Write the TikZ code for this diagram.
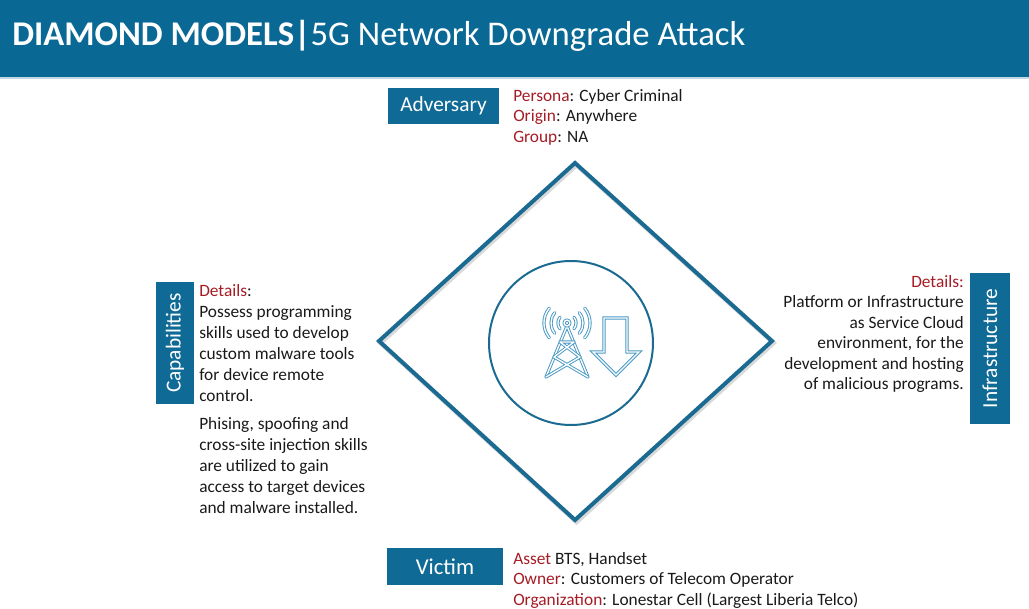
\documentclass[tikz,border=0pt]{standalone}
\usepackage{fontspec}
\setmainfont{Carlito}
\definecolor{barblue}{RGB}{9,104,148}
\definecolor{boxblue}{RGB}{16,106,150}
\definecolor{lineblue}{RGB}{26,106,146}
\definecolor{iconblue}{RGB}{72,152,196}
\definecolor{keyred}{RGB}{165,28,36}
\newcommand{\key}[1]{\textcolor{keyred}{#1}}
\tikzset{
  tagbox/.style={fill=boxblue, text=white, inner sep=0pt, font=\fontsize{16}{18}\selectfont},
  info/.style={inner sep=0pt, align=left, text=black!90, font=\fontsize{13}{15.4}\selectfont},
  icon line/.style={draw=iconblue, double=white, double distance=1pt, line width=0.7pt},
}
\begin{document}
\begin{tikzpicture}[x=0.75pt, y=-0.75pt, line join=round, line cap=round]
	\useasboundingbox (0,0) rectangle (1029,609);
	% title bar
	\fill[barblue] (0,0) rectangle (1029,77);
	\fill[barblue!25] (0,77) rectangle (1029,79);
	\node[anchor=base west, inner sep=0pt, text=white, font=\fontsize{26}{30}\selectfont] (title) at (12,46) {\textbf{DIAMOND MODELS|}5G Network Downgrade Attack};
	% diamond
	\coordinate (adv) at (575,163);
	\coordinate (inf) at (772,341);
	\coordinate (vic) at (575,520);
	\coordinate (cap) at (379,341);
	\draw[black!15, line width=3.5pt, line join=miter] ([shift={(1.5,2)}]adv)--([shift={(1.5,2)}]inf)--([shift={(1.5,2)}]vic)--([shift={(1.5,2)}]cap)--cycle;
	\draw[lineblue, line width=3pt, line join=miter] (adv)--(inf)--(vic)--(cap)--cycle;
	\node[circle, draw=lineblue, line width=1.5pt, minimum size=123pt, inner sep=0pt] (core) at (571,343) {};
	% tower icon
	\draw[icon line] (567,326)--(546,377) (567,326)--(588,377);
	\draw[icon line] (560,342)--(574,342) (560,342)--(580,357) (574,342)--(554,357) (554,357)--(588,377) (580,357)--(546,377);
	\draw[icon line] (567,323) circle (2.2pt);
	\foreach \r in {6.8pt,12pt,17.3pt} {
		\draw[icon line] (567,323) ++(140:\r) arc[start angle=140, end angle=220, radius=\r];
		\draw[icon line] (567,323) ++(40:\r) arc[start angle=40, end angle=-40, radius=\r];
	}
	\draw[icon line, line join=miter] (604,318)--(627,318)--(627,352)--(639,352)--(616,375)--(593,352)--(604,352)--cycle;
	% tags
	\node[tagbox, minimum width=83pt, minimum height=27pt] (adversary) at (443.5,106) {Adversary};
	\node[tagbox, minimum width=87pt, minimum height=28pt, font=\fontsize{17}{19}\selectfont] (victim) at (445,566.5) {Victim};
	\node[tagbox, rotate=90, minimum width=91.5pt, minimum height=28.5pt] (capabilities) at (175,343) {Capabilities};
	\node[tagbox, rotate=90, minimum width=113pt, minimum height=30pt] (infrastructure) at (990,348.5) {Infrastructure};
	% details
	\node[info, anchor=north west] (advinfo) at (513,89) {\key{Persona}: Cyber Criminal\\ \key{Origin}: Anywhere\\ \key{Group}: NA};
	\node[info, anchor=north west] (vicinfo) at (513,552) {\key{Asset} BTS, Handset\\ \key{Owner}: Customers of Telecom Operator\\ \key{Organization}: Lonestar Cell (Largest Liberia Telco)};
	\node[info, anchor=north west, font=\fontsize{13}{15.8}\selectfont] (capinfo) at (199,284) {\key{Details}:\\ Possess programming\\ skills used to develop\\ custom malware tools\\ for device remote\\ control.\\[5pt] Phising, spoofing and\\ cross-site injection skills\\ are utilized to gain\\ access to target devices\\ and malware installed.};
	\node[info, anchor=north east, align=right] (infinfo) at (964,275) {\key{Details:}\\ Platform or Infrastructure\\ as Service Cloud\\ environment, for the\\ development and hosting\\ of malicious programs.};
\end{tikzpicture}
\end{document}
